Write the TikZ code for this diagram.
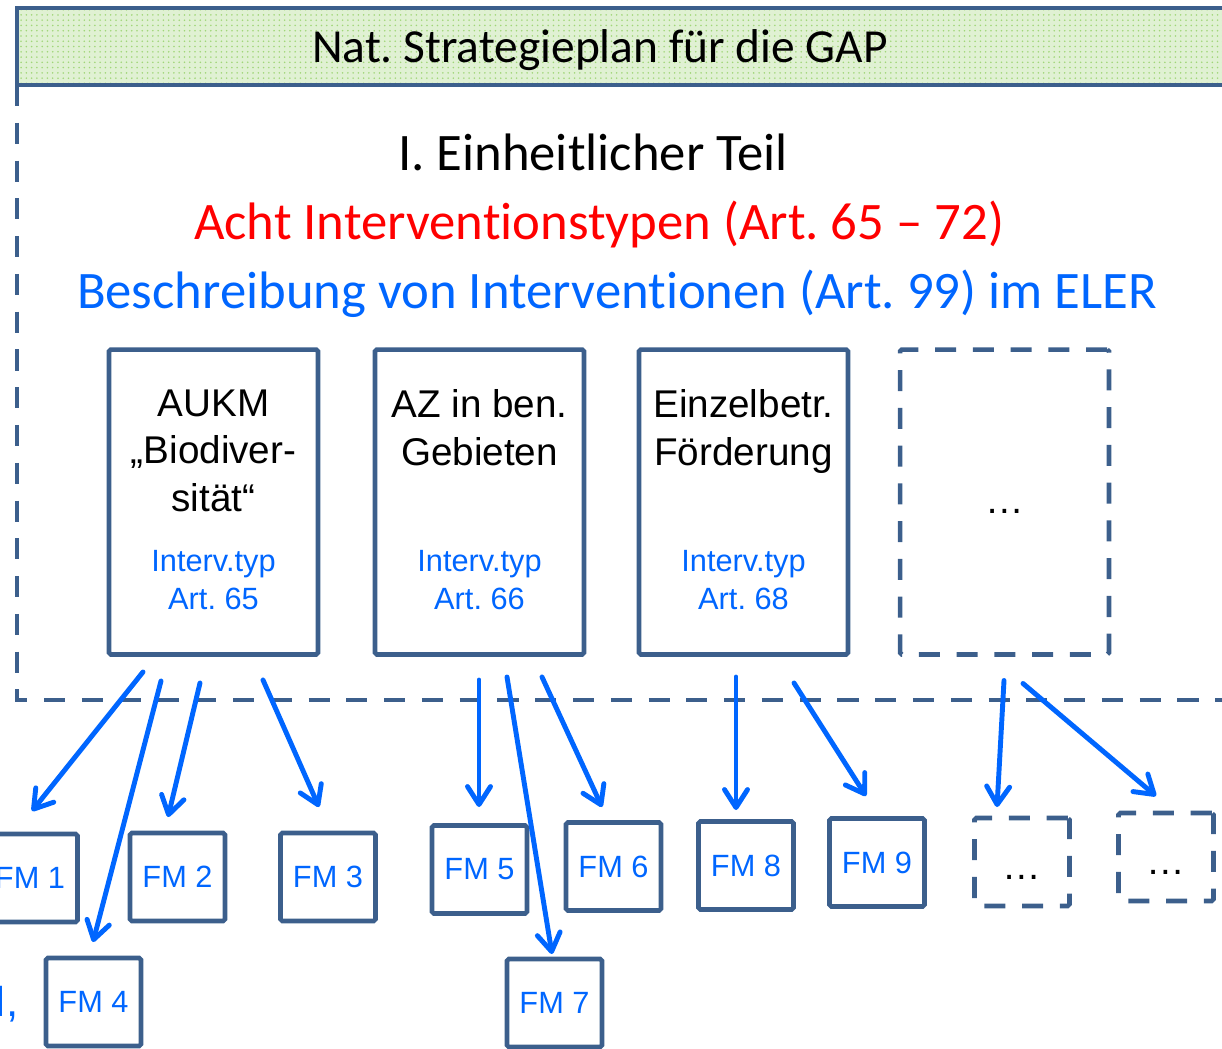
\documentclass[tikz,border=0pt]{standalone}
\usepackage{fontspec}
\setmainfont{Carlito}[Ligatures=CommonOff]
\newfontfamily\arialfont{Liberation Sans}
\usetikzlibrary{arrows.meta,calc,patterns}
\frenchspacing

\definecolor{framecol}{RGB}{60,95,140}
\definecolor{ivblue}{RGB}{0,102,255}
\definecolor{ivred}{RGB}{255,0,0}
\definecolor{headgreen}{RGB}{224,241,211}
\definecolor{dotgreen}{RGB}{160,214,120}

\tikzset{
  ivbox/.style={draw=framecol, line width=2.6pt, rounded corners=1pt,
    minimum width=4.18cm, minimum height=6.1cm, inner sep=0pt, outer sep=0pt},
  fmbox/.style={draw=framecol, line width=2.6pt, rounded corners=1pt,
    minimum width=1.9cm, minimum height=1.76cm, inner sep=0pt, outer sep=0pt,
    text=ivblue, font=\arialfont\fontsize{17.5}{21}\selectfont},
  dashbox/.style={dash pattern=on 12pt off 9.5pt},
  boxtitle/.style={align=center, inner sep=0pt, anchor=north,
    font=\arialfont\fontsize{22}{27}\selectfont},
  boxtype/.style={align=center, inner sep=0pt, anchor=south, text=ivblue,
    font=\arialfont\fontsize{17.5}{21.6}\selectfont},
  headline/.style={inner sep=0pt, anchor=base, font=\fontsize{30}{36}\selectfont},
  fmarrow/.style={draw=ivblue, line width=2.8pt, line cap=round,
    -{Straight Barb[length=0.36cm,width=0.46cm,line cap=round,line join=round]}},
}

\begin{document}
\begin{tikzpicture}[x=0.02cm, y=-0.02cm]
            \useasboundingbox (0,0) rectangle (1222,1048);

            % outer frame and header bar
            \draw[framecol, line width=2.6pt, dashbox] (17,85) -- (17,700) -- (1260,700);
            \fill[headgreen] (17,8) rectangle (1260,85);
            \fill[pattern=dots, pattern color=dotgreen] (17,8) rectangle (1260,85);
            \draw[framecol, line width=2.6pt] (1260,8) -- (17,8) -- (17,85) -- (1260,85);
            \node[headline, font=\fontsize{27}{32}\selectfont] (plan) at (600,62) {Nat. Strategieplan für die GAP};

            \node[headline] (teil) at (593,170) {I. Einheitlicher Teil};
            \node[headline, text=ivred] (typen) at (599,239) {Acht Interventionstypen (Art. 65 – 72)};
            \node[headline, text=ivblue] (eler) at (617,308) {Beschreibung von Interventionen (Art. 99) im ELER};

            % intervention boxes
            \node[ivbox] (aukm) at (213.5,502) {};
            \node[ivbox] (az) at (479.5,502) {};
            \node[ivbox] (ezb) at (743.5,502) {};
            \node[ivbox, dashbox, text height=0.44cm, text depth=0pt,
                  font=\arialfont\fontsize{22}{27}\selectfont] (more) at (1004.5,502) {…};

            \node[boxtitle] (aukmT) at (213.5,389.5) {AUKM\\„Biodiver-\\sität“};
            \node[boxtitle] (azT) at (479.5,389.5) {AZ in ben.\\Gebieten};
            \node[boxtitle] (ezbT) at (743.5,389.5) {Einzelbetr.\\Förderung};
            \node[boxtype] (aukmA) at (213.5,610.5) {Interv.typ\\Art. 65};
            \node[boxtype] (azA) at (479.5,610.5) {Interv.typ\\Art. 66};
            \node[boxtype] (ezbA) at (743.5,610.5) {Interv.typ\\Art. 68};

            % measure boxes
            \node[fmbox] (fm1) at (30,878) {FM 1};
            \node[fmbox] (fm2) at (177.5,877) {FM 2};
            \node[fmbox] (fm3) at (328,877) {FM 3};
            \node[fmbox] (fm4) at (93.5,1002) {FM 4};
            \node[fmbox] (fm5) at (479.5,869.5) {FM 5};
            \node[fmbox] (fm6) at (613.5,866.5) {FM 6};
            \node[fmbox] (fm7) at (554.5,1003) {FM 7};
            \node[fmbox] (fm8) at (746,865.5) {FM 8};
            \node[fmbox] (fm9) at (877,862.5) {FM 9};
            \node[fmbox, dashbox, text=black, text height=0.68cm, text depth=0pt,
                  font=\arialfont\fontsize{22}{27}\selectfont] (dotsA) at (1022,862) {…};
            \node[fmbox, dashbox, text=black, text height=0.68cm, text depth=0pt,
                  font=\arialfont\fontsize{22}{27}\selectfont] (dotsB) at (1166,857) {…};
            \node[anchor=base east, inner sep=0pt, text=ivblue,
                  font=\arialfont\fontsize{25}{30}\selectfont] (cutM) at (19,1016) {M,};

            % arrows
            \draw[fmarrow] ($(aukm.south)+(-70.5,17.5)$) -- ($(fm1.north)+(2,-23)$);
            \draw[fmarrow] ($(aukm.south)+(-52.5,26.5)$) -- ($(fm4.north)+(-0.5,-16)$);
            \draw[fmarrow] ($(aukm.south)+(-13.5,28.5)$) -- ($(fm2.north)+(-9.5,-16)$);
            \draw[fmarrow] ($(aukm.south)+(49.5,25.5)$) -- ($(fm3.north)+(-9,-26)$);
            \draw[fmarrow] ($(az.south)+(-0.5,25.5)$) -- ($(fm5.north)+(-0.5,-18.5)$);
            \draw[fmarrow] ($(az.south)+(27.5,22.5)$) -- ($(fm7.north)+(-2.5,-5)$);
            \draw[fmarrow] ($(az.south)+(62.5,22.5)$) -- ($(fm6.north)+(-11.5,-15.5)$);
            \draw[fmarrow] ($(ezb.south)+(-7.5,22.5)$) -- ($(fm8.north)+(-10,-11.5)$);
            \draw[fmarrow] ($(ezb.south)+(50.5,28.5)$) -- ($(fm9.north)+(-11,-22.5)$);
            \draw[fmarrow] ($(more.south)+(-0.5,26)$) -- ($(dotsA.north)+(-25,-11)$);
            \draw[fmarrow] ($(more.south)+(18.5,29)$) -- ($(dotsB.north)+(-10,-17)$);
        \end{tikzpicture}
\end{document}
